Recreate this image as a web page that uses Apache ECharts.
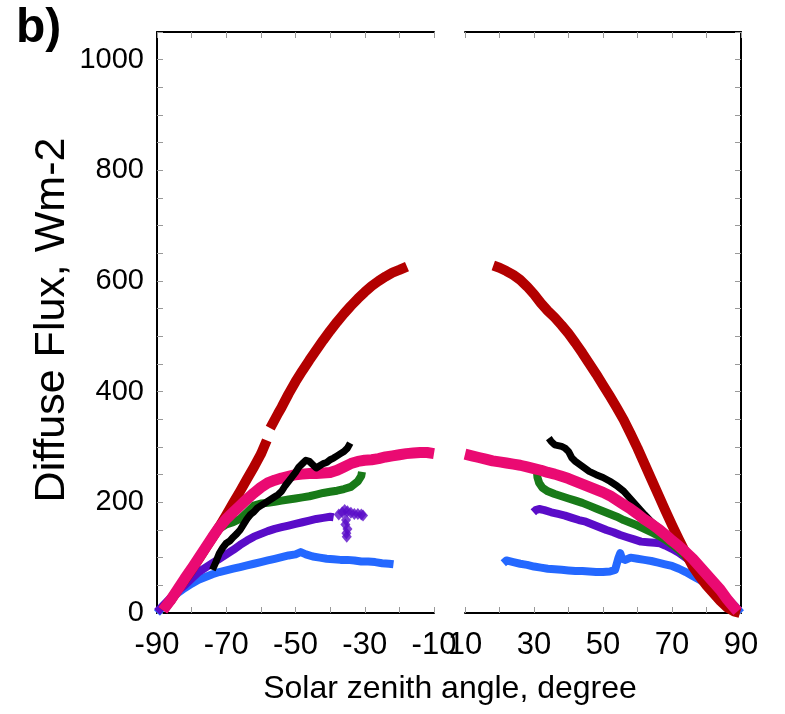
<!DOCTYPE html>
<html>
<head>
<meta charset="utf-8">
<script src="https://cdn.jsdelivr.net/npm/echarts@6/dist/echarts.min.js"></script>
<style>
html,body{margin:0;padding:0;background:#fff;}
#chart{width:785px;height:714px;}
</style>
</head>
<body>
<div id="chart"></div>
<script>
// ---- Data (solar zenith angle in degrees, diffuse flux in W m-2) ----
const xTicksLeft = [-90, -70, -50, -30, -10];
const xTicksRight = [10, 30, 50, 70, 90];
const yTicks = [0, 200, 400, 600, 800, 1000];

const redLeft = [[-88.3,5],[-86,24],[-84,42],[-82,60],[-80,78],[-78,97],[-76,117],[-74,136],[-72,156],[-70,177],[-68,199],[-66,220],[-64,242],[-62,264],[-60,287],[-58.3,312],null,[-57.3,334],[-55,361],[-54,372],[-52,396],[-50,418],[-48,438],[-46,457],[-44,475],[-42,493],[-40,510],[-38,526],[-36,541],[-34,555],[-32,568],[-30,580],[-28,591],[-26,600],[-24,608],[-22,615],[-20,620],[-17.8,626]];
const pinkLeft = [[-88.3,5],[-86,24],[-84,43],[-82,62],[-80,80],[-78,99],[-76,118],[-74,137],[-72,155],[-70,170],[-68,182],[-66,194],[-64,206],[-62,217],[-60,227],[-58,235],[-56,240],[-54,244],[-52,247],[-50,250],[-48,251],[-46,252],[-44,252],[-42,253],[-40,254],[-38,258],[-36,264],[-34,270],[-32,274],[-30,276],[-28,277],[-26,279],[-24,282],[-22,284],[-20,286],[-18,288],[-16,289],[-14,290],[-12,290],[-10,288]];
const blackLeft = [[-74,78],[-73,92],[-72,108],[-71,118],[-70,126],[-69,130],[-68,137],[-67,143],[-66,150],[-65,160],[-64,170],[-63,178],[-62,183],[-61,190],[-60,194],[-59,198],[-58,202],[-57,206],[-56,210],[-55,214],[-54,220],[-53,230],[-52,238],[-51,246],[-50,254],[-49,264],[-48,270],[-47,276],[-46,274],[-45,268],[-44,262],[-43,266],[-42,270],[-41,272],[-40,277],[-39,280],[-38,284],[-37,288],[-36,292],[-35,298],[-34.2,307]];
const greenLeft = [[-86,20],[-84,40],[-82,58],[-80,77],[-78,96],[-76,115],[-74,134],[-72,152],[-70,160],[-68,164],[-66,170],[-64,182],[-62,194],[-60,198],[-58,199],[-56,201],[-54,203],[-52,205],[-50,207],[-48,209],[-46,211],[-44,214],[-42,217],[-40,219],[-38,221],[-36,224],[-34,228],[-32,238],[-31,248],[-30.8,255]];
const purpleLeft = [[-90,2],[-88,15],[-86,28],[-84,40],[-82,50],[-80,62],[-78,74],[-76,82],[-74,90],[-72,98],[-70,106],[-68,114],[-66,123],[-64,131],[-62,138],[-60,143],[-58,148],[-56,152],[-54,155],[-52,158],[-50,161],[-48,164],[-46,167],[-44,170],[-42,172],[-40,174],[-39,173]];
const purpleLeftScatter = [[-37.5,178],[-36.5,182],[-35.8,186],[-35,184],[-34,181],[-33,179],[-32,179],[-31,178],[-30.5,176],[-35.4,168],[-35.6,160],[-35,152],[-35.3,144],[-35.2,138]];
const blueLeft = [[-90,0],[-88,14],[-86,26],[-84,36],[-82,45],[-80,53],[-78,60],[-76,65],[-74,70],[-72,74],[-70,77],[-68,80],[-66,83],[-64,86],[-62,89],[-60,92],[-58,95],[-56,98],[-54,101],[-52,104],[-50,106],[-48.5,110],[-47,106],[-45,102],[-43,100],[-41,98],[-39,97],[-37,96],[-35,96],[-33,95],[-31,93],[-29,93],[-27,92],[-25,90],[-23,89],[-21.7,88]];

const redRight = [[18.2,628],[20,624],[22,618],[24,611],[26,602],[28,590],[30,576],[32,560],[34,546],[36,534],[38,520],[40,505],[42,488],[44,470],[46,451],[48,432],[50,412],[52,392],[54,371],[56,349],[58,324],[60,298],[62,270],[64,242],[66,214],[68,186],[70,159],[72,133],[74,108],[76,84],[78,66],[80,50],[82,36],[84,22],[86,10],[88,3],[89.7,0]];
const pinkRight = [[10,287],[12,284],[14,281],[16,278],[18,275],[20,273],[22,271],[24,269],[26,267],[28,264],[30,261],[32,258],[34,254],[36,251],[38,247],[40,243],[42,238],[44,233],[46,228],[48,223],[50,218],[52,212],[54,204],[56,196],[58,188],[60,179],[62,169],[64,161],[66,152],[68,142],[70,131],[72,121],[74,110],[76,98],[78,84],[80,70],[82,56],[84,42],[86,25],[88,10],[89,3]];
const blackRight = [[34.3,316],[35,310],[36,304],[38,301],[39,298],[40,292],[41,280],[42,274],[44,265],[46,256],[48,250],[50,245],[52,238],[54,230],[56,220],[58,206],[60,192],[62,178],[64,165],[66,155],[68,145],[70,134],[72,122],[74,108],[76,92],[78,76],[80,62]];
const greenRight = [[30.8,259],[31,245],[31.5,235],[32.5,226],[34,220],[36,215],[38,211],[40,207],[42,203],[44,199],[46,194],[48,189],[50,184],[52,179],[54,174],[56,168],[58,163],[60,158],[62,152],[64,146],[66,140],[68,133],[70,124],[72,114],[74,102],[76,88],[78,74],[80,60],[82,47],[84,33],[86,20],[88,7],[89,2]];
const purpleRight = [[29.8,182],[30.5,186],[31.5,188],[33,186],[35,182],[37,179],[39,176],[41,172],[43,168],[45,165],[47,160],[49,155],[51,150],[53,146],[55,141],[57,137],[59,133],[61,129],[63,128],[65,127],[66.5,126],[68,122],[70,116],[72,109],[74,100],[76,90],[78,79],[80,66],[82,53],[84,40],[86,26],[88,10],[89.5,2]];
const blueRight = [[21.1,90],[22,95],[24,92],[26,89],[28,87],[30,84],[32,82],[34,80],[36,79],[38,78],[40,77],[42,76],[44,76],[46,75],[48,74],[50,74],[52,75],[53.5,78],[54.5,100],[55,108],[55.5,98],[56.5,96],[58,100],[60,98],[62,96],[64,94],[66,91],[68,88],[70,85],[72,80],[74,74],[76,67],[78,60],[80,53],[82,46],[84,38],[86,27],[88,14],[90,0]];

const COLORS = {red:'#b30000', pink:'#ea0a72', black:'#000000', green:'#187a18', purple:'#5a0cc8', blue:'#2468ff'};

// ---- Chart ----
const chart = echarts.init(document.getElementById('chart'), null, {renderer:'canvas'});
const FONT = '"Liberation Sans", Arial, sans-serif';
const axisLineStyle = {show:true, onZero:false, lineStyle:{color:'#000', width:2}};
const tickStyle = {show:true, inside:true, length:6, lineStyle:{color:'#999', width:1}};

function xAxis(grid, pos, min, max, ticks, showLabels){
  return {
    type:'value', gridIndex:grid, position:pos, min:min, max:max, interval:10,
    axisLine:axisLineStyle, axisTick:tickStyle, splitLine:{show:false},
    axisLabel:{show:showLabels, margin:17, color:'#000', fontSize:31, fontFamily:FONT,
      formatter:v => ticks.indexOf(v) >= 0 ? String(v) : ''}
  };
}
function yAxis(grid, pos, showLabels){
  return {
    type:'value', gridIndex:grid, position:pos, min:0, max:1050, interval:50,
    axisLine:axisLineStyle, axisTick:tickStyle, splitLine:{show:false},
    axisLabel:{show:showLabels, margin:13, color:'#000', fontSize:29, fontFamily:FONT,
      formatter:v => yTicks.indexOf(v) >= 0 ? String(v) : ''}
  };
}
function line(name, data, color, width, xi, yi, z){
  return {name, type:'line', data, xAxisIndex:xi, yAxisIndex:yi, z,
    showSymbol:false, symbol:'none', connectNulls:false, smooth:false,
    lineStyle:{color, width, join:'round', cap:'butt'}};
}

const option = {
  animation:false,
  backgroundColor:'#fff',
  grid:[
    {left:157, top:32, width:277, height:581},
    {left:465, top:32, width:276, height:581}
  ],
  xAxis:[
    xAxis(0,'bottom',-90,-10,xTicksLeft,true),
    xAxis(0,'top',-90,-10,xTicksLeft,false),
    xAxis(1,'bottom',10,90,xTicksRight,true),
    xAxis(1,'top',10,90,xTicksRight,false)
  ],
  yAxis:[
    yAxis(0,'left',true),
    yAxis(1,'right',false)
  ],
  series:[
    line('blueL', blueLeft, COLORS.blue, 8, 0, 0, 2),
    line('purpleL', purpleLeft, COLORS.purple, 8, 0, 0, 3),
    {name:'purpleLS', type:'scatter', data:purpleLeftScatter, xAxisIndex:0, yAxisIndex:0, z:3,
      symbol:'diamond', symbolSize:[10,12], itemStyle:{color:COLORS.purple}},
    line('greenL', greenLeft, COLORS.green, 8, 0, 0, 4),
    line('redL', redLeft, COLORS.red, 10, 0, 0, 5),
    line('pinkL', pinkLeft, COLORS.pink, 11, 0, 0, 6),
    line('blackL', blackLeft, COLORS.black, 7, 0, 0, 7),

    line('blueR', blueRight, COLORS.blue, 8, 2, 1, 2),
    line('purpleR', purpleRight, COLORS.purple, 8, 2, 1, 3),
    line('greenR', greenRight, COLORS.green, 8, 2, 1, 4),
    line('blackR', blackRight, COLORS.black, 7, 2, 1, 5),
    line('redR', redRight, COLORS.red, 10, 2, 1, 6),
    line('pinkR', pinkRight, COLORS.pink, 11, 2, 1, 7)
  ],
  graphic:[
    {type:'text', left:16, top:5, style:{text:'b)', font:'bold 48px "Liberation Sans", Arial, sans-serif', fill:'#000'}},
    {type:'text', x:52, y:320, rotation:Math.PI/2,
      style:{text:'Diffuse Flux, Wm-2', font:'43px "Liberation Sans", Arial, sans-serif', fill:'#000', align:'center', verticalAlign:'middle'}},
    {type:'text', x:450, y:689,
      style:{text:'Solar zenith angle, degree', font:'32px "Liberation Sans", Arial, sans-serif', fill:'#000', align:'center', verticalAlign:'middle'}}
  ]
};
chart.setOption(option);
</script>
</body>
</html>
